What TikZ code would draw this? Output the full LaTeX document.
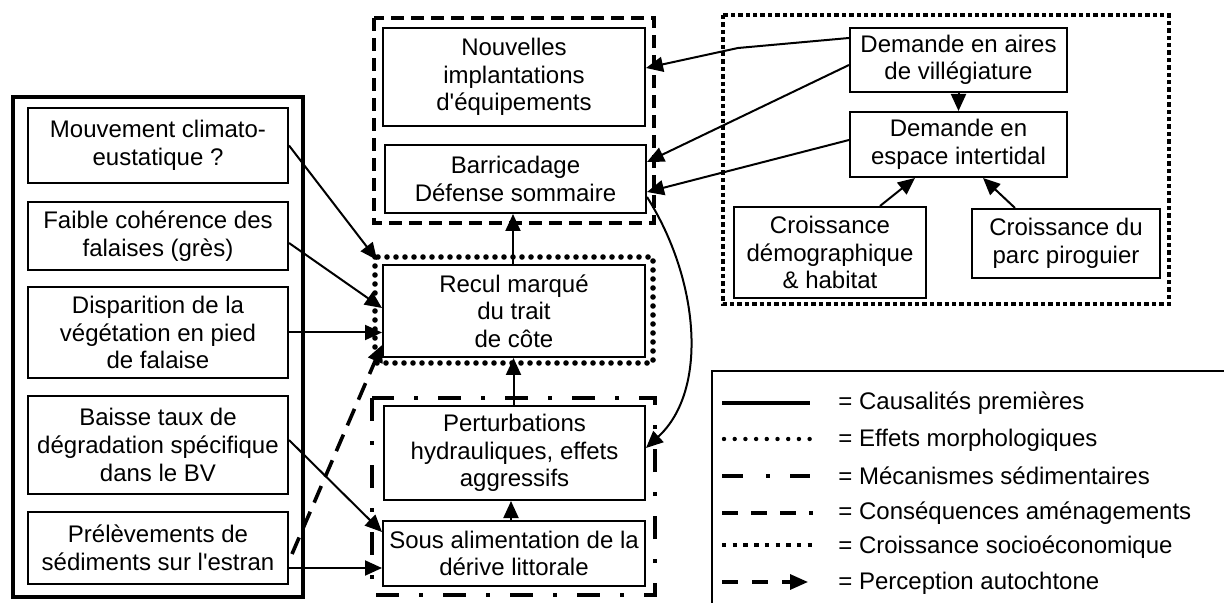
\documentclass[tikz,border=0pt]{standalone}
\usepackage{fontspec}
\setmainfont{Liberation Sans}
\usetikzlibrary{arrows.meta}
\begin{document}
\begin{tikzpicture}[x=0.5pt,y=-0.5pt,
  txt/.style={font=\fontsize{12pt}{13.8pt}\selectfont},
  box/.style={txt,draw,line width=1pt,inner sep=0pt,align=center},
  conn/.style={line width=1pt,-{Triangle[length=8.5pt,width=7.5pt]}},
  grpsolid/.style={line width=2.2pt},
  grpdashed/.style={line width=1.9pt,dash pattern=on 6.5pt off 3.5pt},
  grpdotted/.style={line width=2.8pt,line cap=round,dash pattern=on 0pt off 4.5pt},
  grpdashdot/.style={line width=2.2pt,dash pattern=on 11.5pt off 10pt on 2pt off 10pt},
  grpsquare/.style={line width=2.3pt,dash pattern=on 2.2pt off 1.5pt},
  perception/.style={line width=1.8pt,dash pattern=on 9pt off 5pt,-{Triangle[length=8.5pt,width=7.5pt]}},
  legtxt/.style={txt,anchor=west,inner sep=0pt}]
\useasboundingbox (0,0) rectangle (1224,603);

% group frames
\draw[grpsolid] (13,97) rectangle (303,597);
\draw[grpdashed] (374,18) rectangle (654,223);
\draw[grpdotted] (375,257) rectangle (653,363);
\draw[grpdashdot] (372,398) rectangle (655,595);
\draw[grpsquare] (723,15) rectangle (1169,304);

% left column
\node[box,minimum width=130pt,minimum height=37.5pt] (mouv) at (158,145.5) {Mouvement climato-\\eustatique ?};
\node[box,minimum width=130pt,minimum height=34pt] (faib) at (158,236) {Faible cohérence des\\falaises (grès)};
\node[box,minimum width=130pt,minimum height=45.5pt] (disp) at (158,332.5) {Disparition de la\\végétation en pied\\de falaise};
\node[box,minimum width=130pt,minimum height=49pt] (bais) at (158,445) {Baisse taux de\\dégradation spécifique\\dans le BV};
\node[box,minimum width=130pt,minimum height=36pt] (prel) at (158,548) {Prélèvements de\\sédiments sur l\textquotesingle estran};

% middle column
\node[box,minimum width=131pt,minimum height=49pt] (nouv) at (514,77) {Nouvelles\\implantations\\d\textquotesingle équipements};
\node[box,minimum width=130.5pt,minimum height=34pt] (barr) at (515.5,179) {Barricadage\\Défense sommaire};
\node[box,minimum width=131pt,minimum height=46pt] (recul) at (514,311) {Recul marqué\\du trait\\de côte};
\node[box,minimum width=130.5pt,minimum height=47pt] (pert) at (514.5,453) {Perturbations\\hydrauliques, effets\\aggressifs};
\node[box,minimum width=131pt,minimum height=32.5pt] (sous) at (514,553.5) {Sous alimentation de la\\dérive littorale};

% right group
\node[box,minimum width=108.5pt,minimum height=32pt] (aires) at (958.5,60) {Demande en aires\\de villégiature};
\node[box,minimum width=108.5pt,minimum height=32.5pt] (espace) at (958.5,144.5) {Demande en\\espace intertidal};
\node[box,minimum width=96pt,minimum height=45.5pt] (demo) at (830,252.5) {Croissance\\démographique\\\& habitat};
\node[box,minimum width=94pt,minimum height=34.5pt] (parc) at (1066,243.5) {Croissance du\\parc piroguier};

% connectors
\coordinate (bend) at (738,48);
\draw[conn] ([yshift=11pt]aires.west) -- (bend) -- ([yshift=4.5pt]nouv.east);
\draw[conn] ([yshift=-2.5pt]aires.west) -- ([yshift=8.5pt]barr.east);
\draw[conn] ([yshift=2.25pt]espace.west) -- ([yshift=-6.5pt]barr.east);
\draw[conn] (aires.south) -- (espace.north);
\draw[conn] ([xshift=25pt]demo.north) -- ([xshift=-21.75pt]espace.south);
\draw[conn] ([xshift=-25.5pt]parc.north) -- ([xshift=12.25pt]espace.south);
\draw[conn] ([xshift=-0.5pt]recul.north) -- ([xshift=-0.5pt]recul.north |- barr.south);
\draw[conn] ([xshift=-0.5pt]pert.north) -- ([xshift=-0.5pt]pert.north |- recul.south);
\draw[conn] ([xshift=-1.5pt]sous.north) -- ([xshift=-1.5pt]sous.north |- pert.south);
\draw[conn] ([yshift=-9pt]barr.east) .. controls +(52,82) and +(63,-58) .. ([yshift=2.5pt]pert.east);
\draw[conn] (mouv.east) -- ([shift={(-5,-4)}]recul.north west);
\draw[conn] ([yshift=-3.5pt]faib.east) -- ([yshift=1.5pt]recul.west);
\draw[conn] (disp.east) -- (disp.east -| recul.west);
\draw[conn] ([yshift=2.5pt]bais.east) -- ([yshift=10.75pt]sous.west);
\draw[conn] ([yshift=-10pt]prel.east) -- ([yshift=-10pt]prel.east -| sous.west);
\draw[perception] ([shift={(3,6)}]prel.east) -- ([yshift=-17pt]recul.west);

% legend
\draw[line width=1pt] (1224,371) -- (712,371) -- (712,603);
\coordinate (l1a) at (722,403); \coordinate (l1b) at (810,403);
\coordinate (l2a) at (724,439); \coordinate (l2b) at (810,439);
\coordinate (l3a) at (722,476); \coordinate (l3b) at (810,476);
\coordinate (l4a) at (722,513); \coordinate (l4b) at (813,513);
\coordinate (l5a) at (722,545); \coordinate (l5b) at (812,545);
\coordinate (l6a) at (722,582); \coordinate (l6b) at (808,582);
\draw[line width=1.6pt] (l1a) -- (l1b);
\draw[line width=2.2pt,line cap=round,dash pattern=on 0pt off 5.35pt] (l2a) -- (l2b);
\draw[line width=2.2pt,dash pattern=on 10.5pt off 11.5pt on 2pt off 10pt] (l3a) -- (l3b);
\draw[line width=1.6pt,dash pattern=on 8pt off 6.5pt] (l4a) -- (l4b);
\draw[line width=2.3pt,dash pattern=on 2.2pt off 3.15pt] (l5a) -- (l5b);
\draw[line width=1.6pt,dash pattern=on 8pt off 7pt,-{Triangle[length=9pt,width=7.5pt]}] (l6a) -- (l6b);
\node[legtxt] (t1) at (838,403) {= Causalités premières};
\node[legtxt] (t2) at (838,440) {= Effets morphologiques};
\node[legtxt] (t3) at (838,476) {= Mécanismes sédimentaires};
\node[legtxt] (t4) at (838,513) {= Conséquences aménagements};
\node[legtxt] (t5) at (838,547) {= Croissance socioéconomique};
\node[legtxt] (t6) at (838,583) {= Perception autochtone};
\end{tikzpicture}
\end{document}
